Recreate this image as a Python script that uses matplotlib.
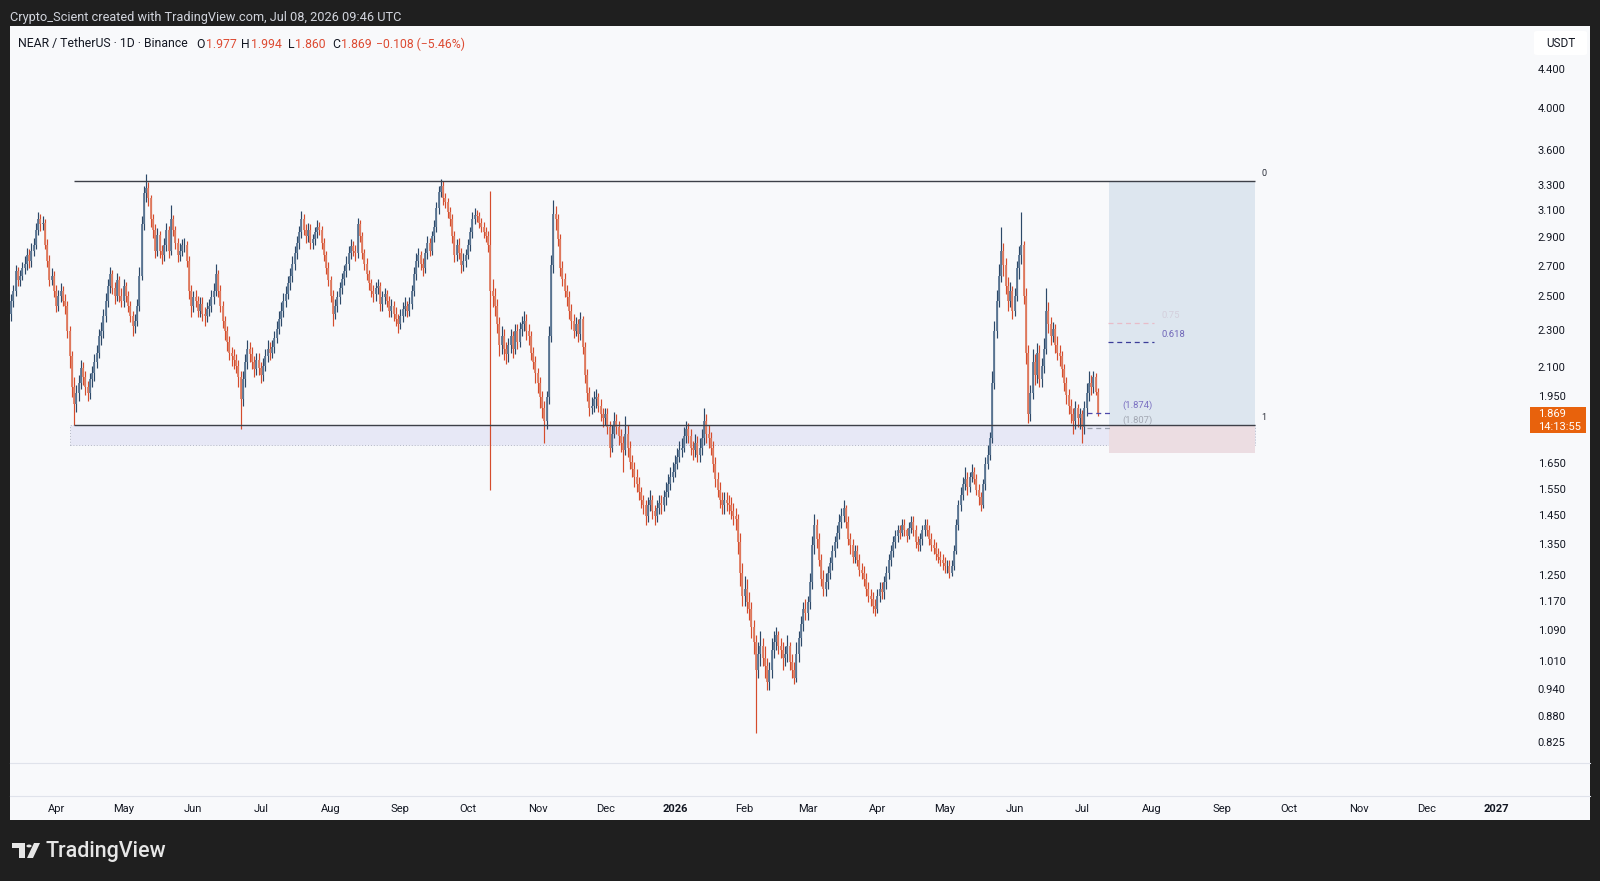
import numpy as np
import pandas as pd
import matplotlib
matplotlib.use('Agg')
import matplotlib.pyplot as plt
import matplotlib.dates as mdates
import matplotlib.transforms as mtransforms
from matplotlib.patches import Rectangle, FancyBboxPatch, Polygon, Circle
from matplotlib.lines import Line2D

plt.rcParams['font.family'] = ['Roboto', 'DejaVu Sans']

# ---------------------------------------------------------------------------
# Data: NEAR / USDT daily candles (open = previous close)
# ---------------------------------------------------------------------------
start_date = '2025-03-12'
first_open = 2.40

closes = [
    2.48, 2.54, 2.67, 2.61, 2.64, 2.69, 2.72, 2.78, 2.74, 2.81,
    2.85, 2.96, 3.04, 3.00, 3.01, 2.85, 2.74, 2.61, 2.64, 2.54,
    2.45, 2.51, 2.54, 2.48, 2.45, 2.30, 2.16, 2.00, 1.92, 1.97,
    2.02, 2.10, 2.05, 2.00, 1.97, 2.04, 2.07, 2.13, 2.18, 2.27,
    2.30, 2.39, 2.48, 2.57, 2.65, 2.56, 2.51, 2.61, 2.51, 2.48,
    2.57, 2.51, 2.45, 2.39, 2.33, 2.36, 2.45, 2.64, 3.00, 3.24,
    3.28, 3.20, 3.04, 2.96, 2.81, 2.92, 2.81, 2.78, 2.85, 2.96,
    2.81, 3.04, 2.96, 2.86, 2.78, 2.81, 2.85, 2.85, 2.74, 2.54,
    2.45, 2.50, 2.48, 2.42, 2.46, 2.40, 2.39, 2.43, 2.45, 2.50,
    2.54, 2.65, 2.54, 2.45, 2.36, 2.30, 2.24, 2.18, 2.16, 2.14,
    2.11, 2.05, 1.94, 2.04, 2.13, 2.20, 2.17, 2.13, 2.09, 2.14,
    2.10, 2.06, 2.11, 2.16, 2.20, 2.18, 2.21, 2.26, 2.31, 2.37,
    2.42, 2.48, 2.52, 2.59, 2.64, 2.72, 2.79, 2.86, 2.94, 3.04,
    2.96, 2.91, 2.96, 2.86, 2.89, 2.94, 2.98, 2.96, 2.86, 2.78,
    2.69, 2.61, 2.51, 2.40, 2.45, 2.50, 2.56, 2.62, 2.67, 2.72,
    2.79, 2.84, 2.81, 2.79, 3.00, 2.91, 2.79, 2.72, 2.65, 2.59,
    2.54, 2.52, 2.56, 2.57, 2.46, 2.50, 2.52, 2.48, 2.42, 2.45,
    2.40, 2.37, 2.34, 2.39, 2.43, 2.45, 2.42, 2.46, 2.54, 2.65,
    2.74, 2.78, 2.72, 2.69, 2.79, 2.86, 2.81, 2.91, 2.98, 3.12,
    3.25, 3.30, 3.20, 3.17, 3.09, 3.04, 2.91, 2.78, 2.85, 2.79,
    2.71, 2.74, 2.78, 2.85, 2.94, 3.04, 3.07, 3.06, 3.01, 2.98,
    2.94, 2.91, 2.85, 2.54, 2.51, 2.45, 2.34, 2.22, 2.27, 2.20,
    2.17, 2.22, 2.27, 2.20, 2.30, 2.24, 2.31, 2.34, 2.36, 2.30,
    2.27, 2.18, 2.13, 2.07, 2.02, 1.95, 1.90, 1.84, 1.95, 2.27,
    2.71, 3.08, 3.04, 2.89, 2.69, 2.62, 2.54, 2.50, 2.42, 2.36,
    2.30, 2.34, 2.28, 2.37, 2.21, 2.06, 1.97, 1.90, 1.91, 1.94,
    1.95, 1.91, 1.87, 1.85, 1.87, 1.81, 1.72, 1.78, 1.84, 1.81,
    1.77, 1.74, 1.71, 1.78, 1.72, 1.66, 1.63, 1.60, 1.57, 1.54,
    1.51, 1.49, 1.45, 1.49, 1.51, 1.47, 1.45, 1.48, 1.50, 1.49,
    1.52, 1.54, 1.57, 1.60, 1.62, 1.65, 1.68, 1.71, 1.72, 1.77,
    1.80, 1.77, 1.72, 1.71, 1.74, 1.69, 1.72, 1.76, 1.84, 1.78,
    1.76, 1.72, 1.65, 1.59, 1.55, 1.51, 1.49, 1.51, 1.50, 1.49,
    1.47, 1.45, 1.44, 1.36, 1.26, 1.19, 1.21, 1.17, 1.15, 1.10,
    1.06, 0.99, 1.03, 1.05, 1.02, 1.00, 0.96, 0.99, 1.04, 1.06,
    1.08, 1.05, 1.04, 1.02, 1.03, 1.05, 1.01, 0.99, 0.97, 1.03,
    1.07, 1.11, 1.15, 1.14, 1.17, 1.23, 1.35, 1.42, 1.37, 1.30,
    1.24, 1.21, 1.23, 1.26, 1.29, 1.33, 1.36, 1.39, 1.43, 1.45,
    1.48, 1.43, 1.37, 1.35, 1.31, 1.33, 1.30, 1.27, 1.26, 1.24,
    1.21, 1.19, 1.18, 1.16, 1.15, 1.19, 1.21, 1.20, 1.23, 1.26,
    1.30, 1.33, 1.36, 1.38, 1.40, 1.39, 1.42, 1.40, 1.38, 1.41,
    1.43, 1.40, 1.36, 1.35, 1.37, 1.40, 1.42, 1.40, 1.37, 1.35,
    1.34, 1.32, 1.31, 1.30, 1.29, 1.28, 1.28, 1.26, 1.28, 1.33,
    1.42, 1.49, 1.53, 1.57, 1.59, 1.56, 1.60, 1.62, 1.59, 1.55,
    1.52, 1.49, 1.57, 1.65, 1.69, 1.76, 2.02, 2.30, 2.48, 2.64,
    2.81, 2.71, 2.57, 2.48, 2.54, 2.42, 2.51, 2.69, 2.78, 2.85,
    2.51, 2.18, 1.87, 1.97, 2.13, 2.06, 2.18, 2.04, 2.11, 2.20,
    2.42, 2.34, 2.27, 2.31, 2.22, 2.18, 2.16, 2.09, 2.02, 1.96,
    1.91, 1.87, 1.84, 1.90, 1.85, 1.87, 1.81, 1.90, 1.97, 2.02,
    2.00, 2.05, 1.977, 1.869,
]

highs = [
    2.52, 2.58, 2.71, 2.70, 2.68, 2.73, 2.77, 2.83, 2.82, 2.86,
    2.90, 3.01, 3.09, 3.08, 3.06, 3.04, 2.89, 2.78, 2.69, 2.67,
    2.58, 2.55, 2.59, 2.57, 2.52, 2.48, 2.33, 2.19, 2.05, 2.01,
    2.06, 2.14, 2.13, 2.08, 2.03, 2.07, 2.11, 2.17, 2.22, 2.31,
    2.35, 2.43, 2.53, 2.62, 2.70, 2.68, 2.60, 2.66, 2.64, 2.56,
    2.62, 2.60, 2.54, 2.48, 2.42, 2.40, 2.49, 2.70, 3.06, 3.30,
    3.40, 3.33, 3.23, 3.08, 3.00, 2.97, 2.95, 2.85, 2.90, 3.01,
    2.99, 3.15, 3.07, 2.99, 2.90, 2.86, 2.89, 2.90, 2.88, 2.77,
    2.58, 2.54, 2.55, 2.51, 2.50, 2.50, 2.44, 2.47, 2.49, 2.55,
    2.59, 2.72, 2.68, 2.58, 2.48, 2.39, 2.33, 2.27, 2.21, 2.20,
    2.17, 2.14, 2.08, 2.08, 2.17, 2.25, 2.24, 2.21, 2.16, 2.18,
    2.18, 2.13, 2.15, 2.20, 2.25, 2.24, 2.25, 2.30, 2.36, 2.42,
    2.47, 2.53, 2.57, 2.64, 2.69, 2.77, 2.84, 2.91, 2.99, 3.10,
    3.08, 3.00, 3.01, 3.00, 2.93, 2.98, 3.03, 3.02, 2.99, 2.90,
    2.81, 2.73, 2.64, 2.55, 2.49, 2.54, 2.60, 2.66, 2.71, 2.77,
    2.84, 2.89, 2.88, 2.85, 3.05, 3.03, 2.94, 2.82, 2.76, 2.68,
    2.62, 2.58, 2.60, 2.62, 2.60, 2.54, 2.56, 2.55, 2.51, 2.49,
    2.48, 2.44, 2.40, 2.43, 2.47, 2.50, 2.48, 2.50, 2.58, 2.70,
    2.79, 2.83, 2.81, 2.76, 2.83, 2.91, 2.90, 2.95, 3.03, 3.17,
    3.30, 3.36, 3.34, 3.24, 3.20, 3.13, 3.08, 2.95, 2.89, 2.90,
    2.83, 2.79, 2.82, 2.89, 2.98, 3.09, 3.12, 3.11, 3.09, 3.05,
    3.02, 2.98, 2.95, 3.26, 2.62, 2.56, 2.49, 2.38, 2.33, 2.31,
    2.24, 2.26, 2.31, 2.30, 2.34, 2.34, 2.35, 2.39, 2.42, 2.40,
    2.34, 2.30, 2.21, 2.16, 2.10, 2.05, 1.98, 1.93, 1.98, 2.33,
    2.78, 3.19, 3.14, 3.08, 2.93, 2.74, 2.66, 2.58, 2.54, 2.46,
    2.40, 2.38, 2.37, 2.41, 2.39, 2.24, 2.09, 2.00, 1.95, 1.98,
    1.99, 1.97, 1.94, 1.90, 1.90, 1.90, 1.84, 1.82, 1.88, 1.87,
    1.84, 1.80, 1.77, 1.86, 1.82, 1.75, 1.69, 1.66, 1.63, 1.60,
    1.56, 1.53, 1.51, 1.52, 1.55, 1.53, 1.49, 1.51, 1.53, 1.53,
    1.55, 1.58, 1.61, 1.64, 1.66, 1.69, 1.72, 1.75, 1.76, 1.81,
    1.84, 1.83, 1.80, 1.75, 1.78, 1.77, 1.76, 1.80, 1.90, 1.87,
    1.82, 1.79, 1.75, 1.68, 1.62, 1.58, 1.54, 1.54, 1.54, 1.53,
    1.52, 1.50, 1.48, 1.46, 1.39, 1.29, 1.25, 1.24, 1.20, 1.17,
    1.12, 1.08, 1.06, 1.09, 1.07, 1.05, 1.02, 1.01, 1.07, 1.09,
    1.10, 1.09, 1.07, 1.06, 1.05, 1.08, 1.06, 1.03, 1.01, 1.06,
    1.09, 1.13, 1.17, 1.18, 1.19, 1.26, 1.38, 1.46, 1.44, 1.39,
    1.32, 1.27, 1.26, 1.28, 1.31, 1.35, 1.38, 1.42, 1.46, 1.48,
    1.51, 1.49, 1.45, 1.39, 1.37, 1.35, 1.35, 1.32, 1.29, 1.28,
    1.26, 1.23, 1.21, 1.20, 1.18, 1.21, 1.23, 1.23, 1.25, 1.28,
    1.32, 1.35, 1.38, 1.40, 1.42, 1.42, 1.44, 1.44, 1.41, 1.43,
    1.45, 1.45, 1.42, 1.38, 1.39, 1.42, 1.44, 1.44, 1.42, 1.39,
    1.37, 1.36, 1.34, 1.33, 1.32, 1.31, 1.30, 1.30, 1.30, 1.35,
    1.44, 1.51, 1.56, 1.60, 1.64, 1.62, 1.62, 1.65, 1.64, 1.61,
    1.57, 1.54, 1.59, 1.68, 1.73, 1.79, 2.08, 2.36, 2.55, 2.72,
    2.98, 2.86, 2.76, 2.63, 2.60, 2.57, 2.56, 2.74, 2.84, 3.09,
    2.88, 2.56, 2.22, 2.01, 2.20, 2.17, 2.23, 2.22, 2.15, 2.26,
    2.56, 2.47, 2.38, 2.35, 2.34, 2.27, 2.22, 2.19, 2.12, 2.05,
    1.99, 1.94, 1.90, 1.93, 1.92, 1.90, 1.89, 1.93, 2.02, 2.08,
    2.06, 2.08, 2.07, 1.994,
]

lows = [
    2.36, 2.44, 2.51, 2.57, 2.57, 2.61, 2.65, 2.68, 2.69, 2.70,
    2.77, 2.82, 2.92, 2.95, 2.96, 2.82, 2.70, 2.57, 2.58, 2.50,
    2.41, 2.42, 2.47, 2.45, 2.40, 2.26, 2.10, 1.95, 1.82, 1.88,
    1.93, 1.99, 2.01, 1.96, 1.93, 1.94, 2.00, 2.03, 2.10, 2.15,
    2.22, 2.26, 2.35, 2.44, 2.53, 2.52, 2.46, 2.48, 2.47, 2.44,
    2.44, 2.47, 2.41, 2.35, 2.27, 2.29, 2.33, 2.42, 2.61, 2.96,
    3.17, 3.14, 2.98, 2.90, 2.76, 2.77, 2.76, 2.72, 2.74, 2.81,
    2.76, 2.78, 2.91, 2.82, 2.73, 2.74, 2.77, 2.80, 2.70, 2.49,
    2.38, 2.41, 2.44, 2.38, 2.38, 2.36, 2.33, 2.35, 2.39, 2.41,
    2.46, 2.51, 2.50, 2.41, 2.32, 2.25, 2.19, 2.14, 2.11, 2.09,
    2.07, 2.00, 1.80, 1.91, 2.00, 2.09, 2.13, 2.09, 2.05, 2.06,
    2.06, 2.02, 2.03, 2.08, 2.13, 2.14, 2.15, 2.18, 2.23, 2.28,
    2.33, 2.38, 2.44, 2.49, 2.55, 2.60, 2.68, 2.75, 2.82, 2.90,
    2.92, 2.86, 2.87, 2.82, 2.82, 2.85, 2.90, 2.92, 2.82, 2.74,
    2.65, 2.57, 2.47, 2.33, 2.37, 2.41, 2.46, 2.52, 2.58, 2.63,
    2.68, 2.75, 2.77, 2.74, 2.76, 2.87, 2.75, 2.68, 2.61, 2.55,
    2.50, 2.47, 2.48, 2.52, 2.42, 2.42, 2.46, 2.44, 2.38, 2.38,
    2.36, 2.33, 2.29, 2.31, 2.35, 2.39, 2.38, 2.39, 2.43, 2.51,
    2.61, 2.70, 2.68, 2.64, 2.66, 2.75, 2.77, 2.78, 2.87, 2.94,
    3.08, 3.21, 3.15, 3.12, 3.05, 2.99, 2.86, 2.73, 2.74, 2.75,
    2.66, 2.67, 2.70, 2.75, 2.81, 2.90, 3.00, 3.02, 2.97, 2.94,
    2.90, 2.87, 2.80, 1.55, 2.44, 2.39, 2.29, 2.16, 2.17, 2.14,
    2.12, 2.13, 2.18, 2.15, 2.17, 2.20, 2.21, 2.27, 2.30, 2.25,
    2.22, 2.14, 2.09, 2.02, 1.97, 1.90, 1.85, 1.74, 1.80, 1.92,
    2.24, 2.66, 2.96, 2.84, 2.64, 2.57, 2.50, 2.45, 2.37, 2.31,
    2.26, 2.27, 2.24, 2.25, 2.17, 2.02, 1.93, 1.86, 1.87, 1.88,
    1.90, 1.88, 1.84, 1.81, 1.82, 1.78, 1.68, 1.70, 1.76, 1.78,
    1.73, 1.70, 1.62, 1.69, 1.68, 1.63, 1.60, 1.56, 1.54, 1.51,
    1.48, 1.46, 1.42, 1.43, 1.47, 1.44, 1.42, 1.43, 1.46, 1.46,
    1.47, 1.49, 1.52, 1.55, 1.58, 1.60, 1.63, 1.66, 1.68, 1.70,
    1.74, 1.74, 1.69, 1.67, 1.68, 1.66, 1.66, 1.69, 1.73, 1.74,
    1.72, 1.69, 1.62, 1.56, 1.52, 1.48, 1.46, 1.46, 1.47, 1.46,
    1.44, 1.42, 1.40, 1.32, 1.22, 1.16, 1.16, 1.14, 1.12, 1.07,
    1.03, 0.845, 0.97, 1.00, 1.00, 0.97, 0.94, 0.94, 0.97, 1.02,
    1.04, 1.03, 1.02, 0.99, 1.00, 1.01, 0.99, 0.97, 0.955, 0.96,
    1.01, 1.05, 1.09, 1.12, 1.12, 1.15, 1.21, 1.32, 1.34, 1.28,
    1.22, 1.19, 1.19, 1.21, 1.24, 1.27, 1.31, 1.34, 1.37, 1.41,
    1.43, 1.41, 1.35, 1.32, 1.29, 1.29, 1.28, 1.25, 1.24, 1.22,
    1.19, 1.17, 1.16, 1.14, 1.13, 1.14, 1.17, 1.18, 1.18, 1.21,
    1.24, 1.28, 1.31, 1.34, 1.36, 1.37, 1.38, 1.38, 1.36, 1.37,
    1.39, 1.38, 1.34, 1.33, 1.33, 1.35, 1.38, 1.38, 1.35, 1.33,
    1.32, 1.30, 1.29, 1.28, 1.27, 1.26, 1.26, 1.245, 1.25, 1.27,
    1.32, 1.40, 1.47, 1.51, 1.55, 1.53, 1.54, 1.58, 1.57, 1.53,
    1.49, 1.47, 1.48, 1.55, 1.63, 1.67, 1.74, 1.99, 2.26, 2.44,
    2.60, 2.64, 2.52, 2.42, 2.44, 2.37, 2.39, 2.48, 2.62, 2.72,
    2.46, 2.12, 1.83, 1.84, 1.94, 2.01, 2.02, 2.00, 2.00, 2.07,
    2.17, 2.29, 2.22, 2.24, 2.18, 2.14, 2.11, 2.05, 1.98, 1.92,
    1.87, 1.83, 1.78, 1.80, 1.81, 1.80, 1.74, 1.78, 1.86, 1.93,
    1.96, 1.97, 1.96, 1.860,
]

# price scale labels and time axis
price_ticks = [4.4, 4.0, 3.6, 3.3, 3.1, 2.9, 2.7, 2.5, 2.3, 2.1, 1.95,
               1.65, 1.55, 1.45, 1.35, 1.25, 1.17, 1.09, 1.01, 0.94, 0.88, 0.825]
month_starts = pd.date_range('2025-04-01', '2027-01-01', freq='MS')

# drawings on the chart
range_top = 3.341          # "0"
range_bottom = 1.819       # "1"
zone_low = 1.732
stop_level = 1.697
fib_levels = [(0.75, 2.346), (0.618, 2.238)]
marks = [('(1.874)', 1.874), ('(1.807)', 1.807)]
zone_start = '2025-04-07'
line_start = '2025-04-09'
box_start = '2026-07-13'
box_end = '2026-09-16'
fib_end = '2026-08-02'
mark_start = '2026-07-03'

last_price = '1.869'
countdown = '14:13:55'

# ---------------------------------------------------------------------------
W, H = 1600, 881
def fx(x):
    return x / W
def fy(y):
    return 1 - y / H

fig = plt.figure(figsize=(16, 8.81), dpi=100, facecolor='#1f1f1f')

# light chart panel
fig.patches.append(Rectangle((fx(10), fy(820)), fx(1590) - fx(10), fy(26) - fy(820),
                             transform=fig.transFigure, facecolor='#f8f9fb',
                             edgecolor='none', zorder=-5))

ax = fig.add_axes([fx(10), fy(763), fx(1590) - fx(10), (763 - 27) / H])
ax.set_facecolor('none')
ax.set_yscale('log')
ax.set_ylim(0.7846, 4.902)
origin = mdates.date2num(pd.Timestamp('2025-04-01'))
ax.set_xlim(origin - 20.49, origin + 681.7)
for s in ax.spines.values():
    s.set_visible(False)
ax.set_xticks([])
ax.set_yticks([])
ax.yaxis.set_minor_locator(matplotlib.ticker.NullLocator())

def dnum(s):
    return mdates.date2num(pd.Timestamp(s))

# range zone and long-position box (behind candles)
ax.add_patch(Rectangle((dnum(zone_start), zone_low), dnum(box_end) - dnum(zone_start),
                       range_bottom - zone_low, facecolor='#e7e8f6', edgecolor='#b3b7c6',
                       linestyle=(0, (1, 2)), linewidth=0.7, zorder=1))
ax.add_patch(Rectangle((dnum(box_start), range_bottom), dnum(box_end) - dnum(box_start),
                       range_top - range_bottom, facecolor='#dde6ef', edgecolor='none', zorder=1.1))
ax.add_patch(Rectangle((dnum(box_start), stop_level), dnum(box_end) - dnum(box_start),
                       range_bottom - stop_level, facecolor='#ecdde2', edgecolor='none', zorder=1.2))

# candles
c = np.array(closes)
h = np.array(highs)
l = np.array(lows)
o = np.r_[first_open, c[:-1]]
h = np.maximum(h, np.maximum(o, c))
l = np.minimum(l, np.minimum(o, c))
x = mdates.date2num(pd.date_range(start_date, periods=len(c), freq='D'))
up = c >= o
dn = ~up
body_lo = np.minimum(o, c)
body_hi = np.maximum(o, c)

ax.vlines(x[up], l[up], h[up], color='#2c4868', linewidth=0.85, zorder=3)
ax.vlines(x[up], body_lo[up], body_hi[up], color='#5d7895', linewidth=1.3, zorder=3.1)
ax.vlines(x[dn], l[dn], h[dn], color='#d54c2c', linewidth=0.85, zorder=3)
ax.vlines(x[dn], body_lo[dn], body_hi[dn], color='#df7d62', linewidth=1.3, zorder=3.1)

# horizontal range lines
for lvl, lab in [(range_top, '0'), (range_bottom, '1')]:
    ax.hlines(lvl, dnum(line_start), dnum(box_end), color='#3d4048', linewidth=1.0, zorder=4)
    ax.annotate(lab, (dnum(box_end), lvl), xytext=(4.5, 5.5), textcoords='offset points',
                ha='left', va='center', fontsize=6.5, color='#2a2e39', zorder=5)

# fib levels
fib_styles = {0.75: ('#e8bcc8', '#d4cfdc'), 0.618: ('#3b3d99', '#6f66b8')}
for ratio, lvl in fib_levels:
    lc, tc = fib_styles[ratio]
    ax.hlines(lvl, dnum(box_start) - 0.5, dnum(fib_end), colors=lc, linestyles=(0, (4, 3)),
              linewidth=0.9, zorder=4)
    ax.annotate(f'{ratio:g}', (dnum(fib_end), lvl), xytext=(5, 5.5), textcoords='offset points',
                ha='left', va='center', fontsize=6.8, color=tc, zorder=5)

mark_styles = {'(1.874)': ('#4d49aa', '#7a70c2'), '(1.807)': ('#9aa0ad', '#a3a8b3')}
for lab, lvl in marks:
    lc, tc = mark_styles[lab]
    ax.hlines(lvl, dnum(mark_start), dnum(box_start) + 1.5, colors=lc, linestyles=(0, (4, 3)),
              linewidth=0.9, zorder=4)
    ax.annotate(lab, (dnum(box_start) + 5.7, lvl), xytext=(0, 5.5), textcoords='offset points',
                ha='left', va='center', fontsize=6.8, color=tc, zorder=5)

# price scale labels
ptrans = mtransforms.blended_transform_factory(fig.transFigure, ax.transData)
for p in price_ticks:
    ax.text(fx(1551.5), p, f'{p:.3f}', transform=ptrans, ha='center', va='center',
            fontsize=8, color='#131722', zorder=2, clip_on=False)

# time axis labels
ttrans = mtransforms.blended_transform_factory(ax.transData, fig.transFigure)
for d in month_starts:
    if d.month == 1:
        lab, wt = str(d.year), 'bold'
    else:
        lab, wt = d.strftime('%b'), 'normal'
    ax.text(mdates.date2num(d), fy(809), lab, transform=ttrans, ha='center', va='center',
            fontsize=8, color='#131722', fontweight=wt, clip_on=False)

# separator lines
for yy in (763, 796):
    fig.add_artist(Line2D([fx(10), fx(1590)], [fy(yy), fy(yy)], color='#e0e3eb',
                          linewidth=0.8, zorder=2))

# header
fig.text(fx(10), fy(17), 'Crypto_Scient created with TradingView.com, Jul 08, 2026 09:46 UTC',
         color='#d1d4dc', fontsize=9.2, ha='left', va='center')
fig.text(fx(17.5), fy(44), 'NEAR / TetherUS · 1D · Binance', color='#131722', fontsize=8.8,
         ha='left', va='center')
red = '#dd4b33'
header_parts = [(196.5, 'O', '#131722'), (205.5, '1.977', red), (241.5, 'H', '#131722'),
                (250.5, '1.994', red), (288, 'L', '#131722'), (295.5, '1.860', red),
                (332, 'C', '#131722'), (341, '1.869', red), (376.5, '\u22120.108 (\u22125.46%)', red)]
for xx, txt, col in header_parts:
    fig.text(fx(xx), fy(44), txt, color=col, fontsize=8.8, ha='left', va='center')

# USDT box
fig.patches.append(FancyBboxPatch((fx(1534), fy(55)), fx(1587) - fx(1534), fy(31) - fy(55),
                                  boxstyle='round,pad=0,rounding_size=0.002',
                                  transform=fig.transFigure, facecolor='white',
                                  edgecolor='none', zorder=3))
fig.text(fx(1560.5), fy(43.5), 'USDT', color='#131722', fontsize=8.5, ha='center', va='center',
         zorder=4)

# last price badge
fig.patches.append(Rectangle((fx(1530), fy(433)), fx(1586) - fx(1530), fy(407) - fy(433),
                             transform=fig.transFigure, facecolor='#e8620c', edgecolor='none',
                             zorder=6))
fig.text(fx(1538), fy(414), last_price, color='white', fontsize=8, ha='left', va='center',
         zorder=7)
fig.text(fx(1538), fy(426.5), countdown, color='white', fontsize=8, ha='left', va='center',
         zorder=7)

# TradingView logo
logo = '#e6e6e6'
fig.patches.append(Polygon([(fx(12), fy(843)), (fx(25), fy(843)), (fx(25), fy(858)),
                            (fx(19), fy(858)), (fx(19), fy(848)), (fx(12), fy(848))],
                           closed=True, transform=fig.transFigure, facecolor=logo,
                           edgecolor='none'))
fig.patches.append(Polygon([(fx(34), fy(843)), (fx(40), fy(843)), (fx(33), fy(858)),
                            (fx(27), fy(858))], closed=True, transform=fig.transFigure,
                           facecolor=logo, edgecolor='none'))
fig.patches.append(Circle((fx(29), fy(846)), 2.6 / W, transform=fig.transFigure,
                          facecolor=logo, edgecolor='none'))
fig.text(fx(46), fy(851), 'TradingView', color=logo, fontsize=15.5, fontweight='medium',
         ha='left', va='center')

fig.savefig('out.png', dpi=100, facecolor=fig.get_facecolor())
